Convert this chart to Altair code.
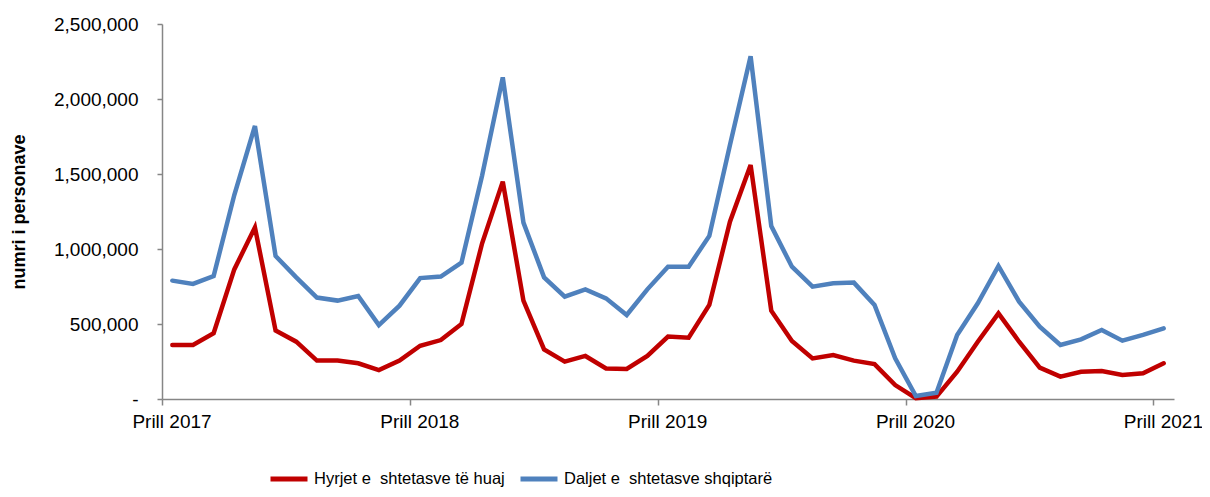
import altair as alt
import pandas as pd

series_names = ["Hyrjet e\u00a0 shtetasve të huaj", "Daljet e\u00a0 shtetasve shqiptarë"]
colors = ["#C00000", "#4F81BD"]

# Monthly values, April 2017 .. April 2021
hyrjet = [360000, 360000, 438000, 864000, 1144000, 456000, 382000, 256000, 256000, 238000, 193000, 256000, 355000,
          393000, 500000, 1038000, 1449000, 656000, 331000, 249000, 287000, 204000, 200000, 287000, 416000,
          409000, 627000, 1182000, 1560000, 589000, 387000, 271000, 293000, 256000, 233000, 93000, 5000,
          16000, 182000, 382000, 571000, 382000, 209000, 149000, 182000, 187000, 160000, 171000, 238000]
daljet = [789000, 767000, 820000, 1360000, 1820000, 953000, 811000, 676000, 656000, 687000, 493000, 622000, 806000,
          816000, 909000, 1490000, 2144000, 1176000, 811000, 682000, 731000, 671000, 560000, 731000, 882000,
          882000, 1087000, 1693000, 2285000, 1153000, 882000, 749000, 771000, 776000, 627000, 271000, 20000,
          42000, 427000, 638000, 887000, 649000, 482000, 360000, 398000, 460000, 389000, 427000, 471000]
tick_labels = ["Prill 2017", "Prill 2018", "Prill 2019", "Prill 2020", "Prill 2021"]
y_ticks = [0, 500000, 1000000, 1500000, 2000000, 2500000]

rows = []
for name, vals in zip(series_names, [hyrjet, daljet]):
    for i, v in enumerate(vals):
        rows.append({"m": i, "v": v, "s": name})
df = pd.DataFrame(rows)

n = len(hyrjet)
label_js = "[" + ",".join("'" + t + "'" for t in tick_labels) + "]"
font = "Liberation Sans"
axis_col = "#868686"
fs = 19

x_axis = alt.Axis(
    values=[-0.5 + 12 * k for k in range(len(tick_labels))],
    labelExpr=label_js + "[round((datum.value+0.5)/12)]",
    labelOffset=9.5, title=None, grid=False,
    domainColor=axis_col, tickColor=axis_col, tickSize=6, domainWidth=1.5, tickWidth=1.5,
    labelFont=font, labelFontSize=fs, labelColor="#000000", labelPadding=7,
    labelFlush=False, labelOverlap=False,
)
y_axis = alt.Axis(
    values=y_ticks,
    labelExpr="datum.value == 0 ? '-' : format(datum.value, ',')",
    title="numri i personave", titleFont=font, titleFontSize=18, titleFontWeight="bold",
    titleColor="#000000", titlePadding=25, grid=False,
    domainColor=axis_col, tickColor=axis_col, tickSize=5, domainWidth=1.5, tickWidth=1.5,
    labelFont=font, labelFontSize=fs, labelColor="#000000", labelPadding=19,
)

chart = alt.Chart(df).mark_line(strokeWidth=4.5, strokeCap="round").encode(
    x=alt.X("m:Q", scale=alt.Scale(domain=[-0.5, n - 0.5], nice=False, zero=False), axis=x_axis),
    y=alt.Y("v:Q", scale=alt.Scale(domain=[0, 2500000], nice=False), axis=y_axis),
    color=alt.Color("s:N", scale=alt.Scale(domain=series_names, range=colors),
                    legend=alt.Legend(orient="none", legendX=106, legendY=434, direction="horizontal",
                                      title=None, symbolType="stroke", symbolSize=1369,
                                      symbolStrokeWidth=5, labelFont=font, labelFontSize=16.5,
                                      labelColor="#000000", columnPadding=5, labelLimit=400,
                                      symbolOffset=0, labelOffset=4)),
    order=alt.Order("m:Q"),
).properties(
    width=1012, height=375,
    padding={"left": 154, "top": 16, "right": 28, "bottom": 90},
    autosize=alt.AutoSizeParams(type="none"),
).configure(background="white").configure_view(stroke=None, strokeWidth=0)

chart.save("out.html", embed_options={"renderer": "svg", "actions": False})
